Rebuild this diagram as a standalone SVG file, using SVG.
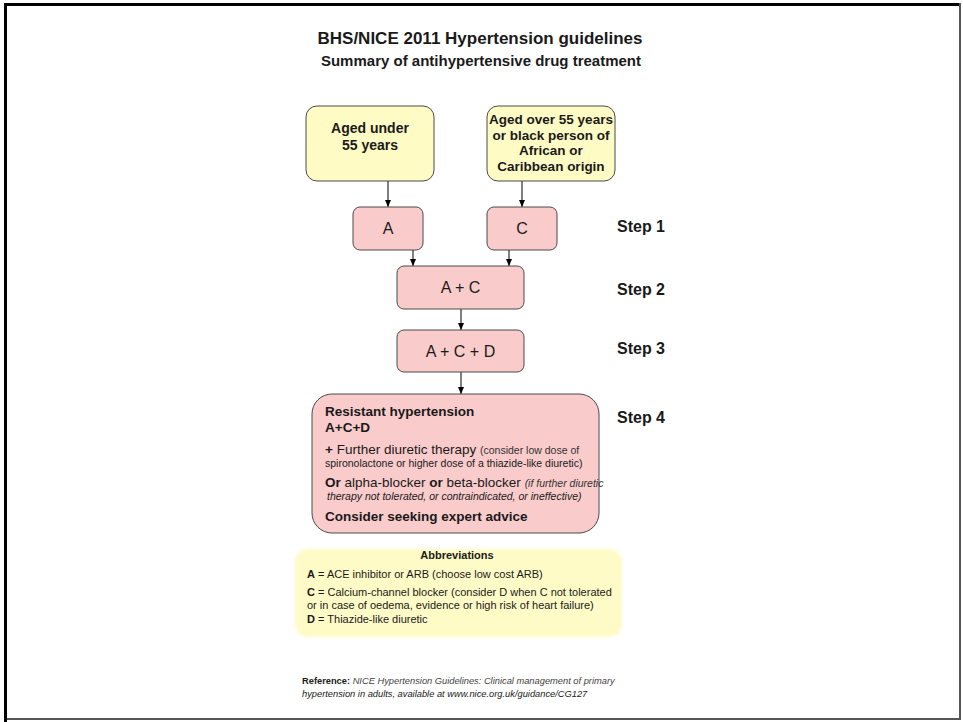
<svg xmlns="http://www.w3.org/2000/svg" width="963" height="722" viewBox="0 0 963 722">
<defs>
<marker id="arr" markerWidth="8" markerHeight="8" refX="7" refY="4" orient="auto" markerUnits="userSpaceOnUse">
<path d="M0,1 L7,4 L0,7 Z" fill="#000"/>
</marker>
<filter id="soft" x="-5%" y="-10%" width="110%" height="120%"><feGaussianBlur stdDeviation="1.5"/></filter>
<style>
text{font-family:"Liberation Sans",Arial,sans-serif;fill:#1a1a1a}
.yel{fill:#FFFBC4;stroke:#4a4a4a;stroke-width:1}
.pink{fill:#F9CBCB;stroke:#4a4a4a;stroke-width:1}
.b{font-weight:bold}
.it{font-style:italic}
.c{text-anchor:middle}
.step{font-weight:bold;font-size:16px}
.con{stroke:#000;stroke-width:1;fill:none;marker-end:url(#arr)}
</style>
</defs>
<rect x="0" y="0" width="963" height="722" fill="#fff"/>
<path d="M5.5,722 V4.5 H960" fill="none" stroke="#000" stroke-width="3"/>
<path d="M960,3 V719 H7" fill="none" stroke="#555" stroke-width="2"/>

<g id="title">
<text x="480" y="44" class="b c" font-size="17">BHS/NICE 2011 Hypertension guidelines</text>
<text x="481" y="66" class="b c" font-size="15">Summary of antihypertensive drug treatment</text>
</g>

<g id="connectors">
<line x1="388" y1="181" x2="388" y2="207" class="con"/>
<line x1="522" y1="181" x2="522" y2="207" class="con"/>
<line x1="413" y1="250" x2="413" y2="266" class="con"/>
<line x1="509" y1="250" x2="509" y2="266" class="con"/>
<line x1="461" y1="309" x2="461" y2="330" class="con"/>
<line x1="461" y1="372" x2="461" y2="394" class="con"/>
</g>

<g id="under55">
<rect x="306" y="106" width="128" height="75" rx="11" class="yel"/>
<text x="370" y="133" class="b c" font-size="14">Aged under</text>
<text x="370" y="150" class="b c" font-size="14">55 years</text>
</g>

<g id="over55">
<rect x="487" y="106" width="128" height="75" rx="11" class="yel"/>
<text x="551" y="124" class="b c" font-size="13.5">Aged over 55 years</text>
<text x="551" y="139.5" class="b c" font-size="13.5">or black person of</text>
<text x="551" y="155" class="b c" font-size="13.5">African or</text>
<text x="551" y="170.5" class="b c" font-size="13.5">Caribbean origin</text>
</g>

<g id="boxA">
<rect x="353" y="207" width="70" height="43" rx="7" class="pink"/>
<text x="388" y="234" class="c" font-size="16">A</text>
</g>

<g id="boxC">
<rect x="487" y="207" width="70" height="43" rx="7" class="pink"/>
<text x="522" y="234" class="c" font-size="16">C</text>
</g>

<g id="boxAC">
<rect x="397" y="266" width="127" height="43" rx="7" class="pink"/>
<text x="460.5" y="293" class="c" font-size="16">A + C</text>
</g>

<g id="boxACD">
<rect x="397" y="330" width="127" height="42" rx="7" class="pink"/>
<text x="460.5" y="357" class="c" font-size="16">A + C + D</text>
</g>

<g id="step4box">
<rect x="312" y="394" width="287" height="139" rx="20" class="pink"/>
<text x="325" y="416" class="b" font-size="13.5">Resistant hypertension</text>
<text x="325" y="432" class="b" font-size="13.5">A+C+D</text>
<text x="325" y="454" font-size="13.5"><tspan class="b">+</tspan> Further diuretic therapy <tspan font-size="10.5" fill="#333">(consider low dose of</tspan></text>
<text x="325" y="467" font-size="10.5" fill="#333">spironolactone or higher dose of a thiazide-like diuretic)</text>
<text x="325" y="487" font-size="13.5"><tspan class="b">Or</tspan> alpha-blocker <tspan class="b">or</tspan> beta-blocker <tspan font-size="10.5" class="it" fill="#333">(if further diuretic</tspan></text>
<text x="327" y="500" font-size="10.5" class="it" fill="#333">therapy not tolerated, or contraindicated, or ineffective)</text>
<text x="325" y="521" class="b" font-size="13.5">Consider seeking expert advice</text>
</g>

<g id="steps">
<text x="617" y="232" class="step">Step 1</text>
<text x="617" y="295" class="step">Step 2</text>
<text x="617" y="354" class="step">Step 3</text>
<text x="617" y="423" class="step">Step 4</text>
</g>

<g id="abbrev">
<rect x="295" y="549" width="327" height="88" rx="13" fill="#FFFBC6" filter="url(#soft)"/>
<text x="457" y="559" class="b c" font-size="11">Abbreviations</text>
<text x="307" y="578" font-size="11"><tspan class="b">A</tspan> = ACE inhibitor or ARB (choose low cost ARB)</text>
<text x="307" y="596" font-size="11"><tspan class="b">C</tspan> = Calcium-channel blocker (consider D when C not tolerated</text>
<text x="307" y="609" font-size="11">or in case of oedema, evidence or high risk of heart failure)</text>
<text x="307" y="623" font-size="11"><tspan class="b">D</tspan> = Thiazide-like diuretic</text>
</g>

<g id="reference">
<text x="302" y="684" font-size="9.3"><tspan class="b">Reference:</tspan> <tspan class="it" fill="#444">NICE Hypertension Guidelines: Clinical management of primary</tspan></text>
<text x="302" y="697" font-size="9.3" class="it" fill="#444">hypertension in adults, available at www.nice.org.uk/guidance/CG127</text>
</g>
</svg>
